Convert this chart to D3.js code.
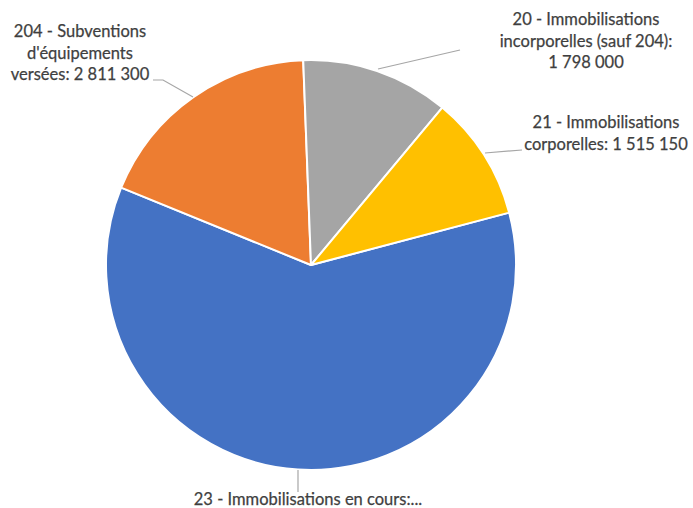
<!DOCTYPE html>
<html>
<head>
<meta charset="utf-8">
<script src="https://cdn.jsdelivr.net/npm/d3@7"></script>
<style>
  html, body { margin: 0; padding: 0; background: #ffffff; }
  svg { display: block; }
  text { font-family: Lato, "Open Sans", sans-serif; fill: #3f3f3f; }
</style>
</head>
<body>
<svg id="chart" width="693" height="508"></svg>
<script>
// Budget lines (investment chapters) and their amounts
const categories = [
  "23 - Immobilisations en cours",
  "204 - Subventions d'équipements versées",
  "20 - Immobilisations incorporelles (sauf 204)",
  "21 - Immobilisations corporelles"
];
const amounts = [9290000, 2811300, 1798000, 1515150];
const colors = ["#4472C4", "#ED7D31", "#A5A5A5", "#FFC000"];

// Label lines as displayed for each slice
const labelLines = [
  ["23 - Immobilisations en cours:..."],
  ["204 - Subventions", "d'équipements", "versées: 2 811 300"],
  ["20 - Immobilisations", "incorporelles (sauf 204):", "1 798 000"],
  ["21 - Immobilisations", "corporelles: 1 515 150"]
];

const svg = d3.select("#chart");
const cx = 311, cy = 265, r = 205;
const firstAngle = 75.2 * Math.PI / 180;

const data = categories.map((c, i) => ({ name: c, value: amounts[i], color: colors[i], lines: labelLines[i] }));

const pie = d3.pie().value(d => d.value).sort(null)
  .startAngle(firstAngle).endAngle(firstAngle + 2 * Math.PI);
const arcs = pie(data);
const arc = d3.arc().innerRadius(0).outerRadius(r);

const g = svg.append("g").attr("transform", `translate(${cx},${cy})`);
g.selectAll("path.slice")
  .data(arcs)
  .join("path")
  .attr("class", "slice")
  .attr("d", arc)
  .attr("fill", d => d.data.color)
  .attr("stroke", "#ffffff")
  .attr("stroke-width", 2)
  .attr("stroke-linejoin", "round");

// Label placement: text centre x, first baseline, and leader polyline (page coords)
const labelLayout = [
  { x: 308, y: 505, leader: [[298, 470], [298, 492]] },
  { x: 80, y: 37, leader: [[193, 97], [163, 80], [153, 80]] },
  { x: 586, y: 25, leader: [[378, 69], [460, 50]] },
  { x: 606, y: 128, leader: [[485, 153], [522, 150]] }
];

const lineGap = 21.5;
const labels = svg.append("g");
arcs.forEach((a, i) => {
  const L = labelLayout[i];
  labels.append("path")
    .attr("d", d3.line()(L.leader))
    .attr("fill", "none")
    .attr("stroke", "#a6a6a6")
    .attr("stroke-width", 1.2);
  const t = labels.append("text")
    .attr("text-anchor", "middle")
    .attr("font-size", 16.5)
    .attr("stroke", "#3f3f3f")
    .attr("stroke-width", 0.25);
  a.data.lines.forEach((ln, k) => {
    t.append("tspan").attr("x", L.x).attr("y", L.y + k * lineGap).text(ln);
  });
});
</script>
</body>
</html>
